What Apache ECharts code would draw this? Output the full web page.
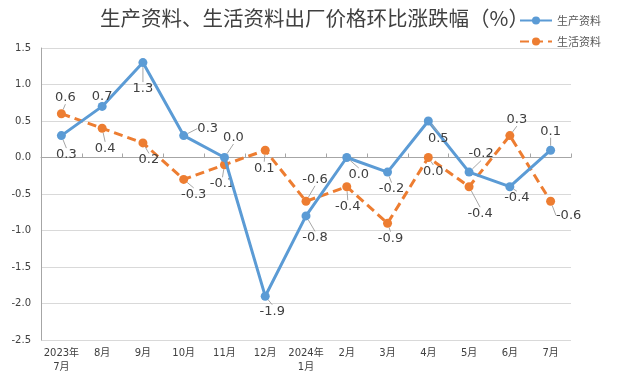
<!DOCTYPE html>
<html><head><meta charset="utf-8">
<script src="https://cdn.jsdelivr.net/npm/echarts@6/dist/echarts.min.js"></script>
<style>html,body{margin:0;padding:0;background:#fff}#c{width:622px;height:377px}</style>
</head><body><div id="c"></div>
<script>
const categories = ['2023年\n7月','8月','9月','10月','11月','12月','2024年\n1月','2月','3月','4月','5月','6月','7月'];
const production = [0.3, 0.7, 1.3, 0.3, 0.0, -1.9, -0.8, 0.0, -0.2, 0.5, -0.2, -0.4, 0.1];
const living = [0.6, 0.4, 0.2, -0.3, -0.1, 0.1, -0.6, -0.4, -0.9, 0.0, -0.4, 0.3, -0.6];
const seriesNames = ['生产资料', '生活资料'];

// label offsets (layout only)
const offA = [[5,19],[0,-10],[0,26],[24,-7],[9,-20],[7,15],[9,22],[12,17],[4,17],[10,18],[12,-18],[7,11],[0,-19]];
const offB = [[4,-16],[3,20],[6,17],[10,15],[-2,19],[-1,18],[9,-22],[1,20],[3,15],[5,14],[11,27],[7,-16],[18,14]];

const chart = echarts.init(document.getElementById('c'), null, {renderer:'canvas'});
const cjk = '"Noto Sans CJK SC", "Noto Sans", sans-serif';
const num = '"DejaVu Sans", "Noto Sans CJK SC", sans-serif';
chart.setOption({
  animation:false,
  textStyle:{fontFamily:num},
  title:{text:'生产资料、生活资料出厂价格环比涨跌幅（%）', left:95, top:3,
    textStyle:{fontSize:20.5, fontWeight:'normal', color:'#404040', fontFamily:cjk}},
  legend:{orient:'vertical', right:16, top:10, itemGap:10, itemWidth:32, itemHeight:10,
    textStyle:{fontSize:11, color:'#595959', fontFamily:cjk}},
  grid:{left:41, right:51, top:48, bottom:37},
  xAxis:{type:'category', data:categories, boundaryGap:true,
    axisLine:{lineStyle:{color:'#a6a6a6'}},
    axisTick:{show:true, inside:true, length:4, lineStyle:{color:'#a6a6a6'}},
    axisLabel:{fontSize:10, color:'#404040', lineHeight:14, margin:6, interval:0, fontFamily:num}},
  yAxis:{type:'value', min:-2.5, max:1.5, interval:0.5,
    axisLine:{show:true, lineStyle:{color:'#a6a6a6'}},
    axisTick:{show:false},
    splitLine:{lineStyle:{color:'#d9d9d9'}},
    axisLabel:{fontSize:10, color:'#404040', margin:10, fontFamily:num, formatter:v=>v.toFixed(1)}},
  series:[
    {name:seriesNames[0], type:'line', data:production, symbol:'circle', symbolSize:9,
      itemStyle:{color:'#5B9BD5'}, lineStyle:{width:3, color:'#5B9BD5'}, z:3,
      label:{show:true, position:'inside', fontSize:13, color:'#404040', fontFamily:num, formatter:p=>p.value.toFixed(1)},
      labelLine:{show:true, lineStyle:{color:'#a6a6a6', width:1}},
      labelLayout:p=>({dx:offA[p.dataIndex][0], dy:offA[p.dataIndex][1]})},
    {name:seriesNames[1], type:'line', data:living, symbol:'circle', symbolSize:9,
      itemStyle:{color:'#ED7D31'}, lineStyle:{width:3, color:'#ED7D31', type:[9,5]}, z:2,
      label:{show:true, position:'inside', fontSize:13, color:'#404040', fontFamily:num, formatter:p=>p.value.toFixed(1)},
      labelLine:{show:true, lineStyle:{color:'#a6a6a6', width:1}},
      labelLayout:p=>({dx:offB[p.dataIndex][0], dy:offB[p.dataIndex][1]})}
  ]
});
</script></body></html>
